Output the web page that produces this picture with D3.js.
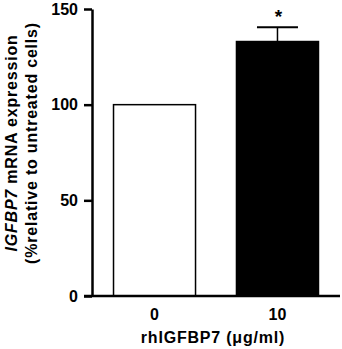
<!DOCTYPE html>
<html>
<head>
<meta charset="utf-8">
<script src="https://cdn.jsdelivr.net/npm/d3@7"></script>
<style>
  html, body { margin: 0; padding: 0; background: #fff; }
  svg { display: block; font-family: "Liberation Sans", Arial, sans-serif; font-weight: bold; }
</style>
</head>
<body>
<svg id="chart" width="342" height="349"></svg>
<script>
// IGFBP7 mRNA expression after rhIGFBP7 treatment

const categories = ['0', '10'];
const means = [100, 133];
const errors = [0, 7.5];
const barFills = ['#ffffff', '#000000'];
const significance = ['', '*'];
const yTicks = [0, 50, 100, 150];

const svg = d3.select('#chart');

// axis frame
const AXIS_X = 92;
const X_END = 340;
const Y_TOP = 9;
const Y_BOTTOM = 296;

const x = d3.scaleBand()
    .domain(categories)
    .range([AXIS_X, X_END])
    .paddingInner(0.333)
    .paddingOuter(0.175);

const y = d3.scaleLinear()
    .domain([0, 150])
    .range([Y_BOTTOM, Y_TOP]);

const data = categories.map((c, i) => ({ cat: c, mean: means[i], err: errors[i], fill: barFills[i], sig: significance[i] }));

// --- Bars ---
svg.selectAll('rect.bar')
    .data(data)
    .join('rect')
    .attr('class', 'bar')
    .attr('x', d => x(d.cat))
    .attr('y', d => y(d.mean))
    .attr('width', x.bandwidth())
    .attr('height', d => y(0) - y(d.mean))
    .attr('fill', d => d.fill)
    .attr('stroke', '#000')
    .attr('stroke-width', 1.5);

// --- Error bars (upper only) ---
const errData = data.filter(d => d.err > 0);
const capHalf = x.bandwidth() * 0.25;

svg.selectAll('line.err')
    .data(errData)
    .join('line')
    .attr('class', 'err')
    .attr('x1', d => x(d.cat) + x.bandwidth() / 2)
    .attr('x2', d => x(d.cat) + x.bandwidth() / 2)
    .attr('y1', d => y(d.mean))
    .attr('y2', d => y(d.mean + d.err))
    .attr('stroke', '#000')
    .attr('stroke-width', 1.5);

svg.selectAll('line.cap')
    .data(errData)
    .join('line')
    .attr('class', 'cap')
    .attr('x1', d => x(d.cat) + x.bandwidth() / 2 - capHalf)
    .attr('x2', d => x(d.cat) + x.bandwidth() / 2 + capHalf)
    .attr('y1', d => y(d.mean + d.err))
    .attr('y2', d => y(d.mean + d.err))
    .attr('stroke', '#000')
    .attr('stroke-width', 2);

// significance star
svg.selectAll('text.sig')
    .data(data.filter(d => d.sig))
    .join('text')
    .attr('class', 'sig')
    .attr('x', d => x(d.cat) + x.bandwidth() / 2 + 1)
    .attr('y', d => y(d.mean + d.err) - 4)
    .attr('text-anchor', 'middle')
    .style('font-size', '19px')
    .text(d => d.sig);

// --- Y axis ---
const yAxis = svg.append('g')
    .attr('transform', `translate(${AXIS_X},0)`)
    .call(d3.axisLeft(y).tickValues(yTicks).tickSize(8).tickPadding(6).tickSizeOuter(0));

yAxis.select('.domain').attr('stroke-width', 2.5);
yAxis.selectAll('.tick line').attr('stroke-width', 2.5);
yAxis.selectAll('.tick text')
    .attr('fill', '#000')
    .style('font-size', '16px')
    .style('font-weight', 'bold')
    .style('font-family', '"Liberation Sans", Arial, sans-serif');

// --- X axis ---
svg.append('line')
    .attr('x1', AXIS_X - 8)
    .attr('x2', X_END)
    .attr('y1', y(0))
    .attr('y2', y(0))
    .attr('stroke', '#000')
    .attr('stroke-width', 2.5);

svg.selectAll('text.xlab')
    .data(categories)
    .join('text')
    .attr('class', 'xlab')
    .attr('x', d => x(d) + x.bandwidth() / 2)
    .attr('y', 320)
    .attr('text-anchor', 'middle')
    .style('font-size', '16px')
    .text(d => d);

// x title
svg.append('text')
    .attr('x', (AXIS_X + X_END) / 2 - 3)
    .attr('y', 343)
    .attr('text-anchor', 'middle')
    .style('font-size', '16px')
    .style('letter-spacing', '0.8px')
    .text('rhIGFBP7 (μg/ml)');

// y title (two lines, rotated)
const yTitle = svg.append('text')
    .attr('transform', 'translate(0,143) rotate(-90)')
    .attr('text-anchor', 'middle')
    .style('font-size', '16px')
    .style('letter-spacing', '0.8px');

const line1 = yTitle.append('tspan').attr('x', 0).attr('y', 17);
line1.append('tspan').style('font-style', 'italic').text('IGFBP7');
line1.append('tspan').text('  mRNA expression');

yTitle.append('tspan')
    .attr('x', 0)
    .attr('y', 37)
    .text('(%relative to untreated cells)');
</script>
</body>
</html>
